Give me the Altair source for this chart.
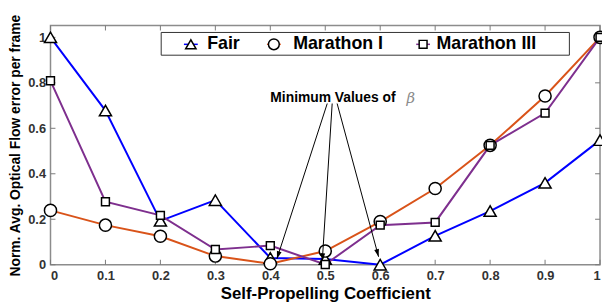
import math
import altair as alt
import pandas as pd

# ---- data ----
betas = [0.0, 0.1, 0.2, 0.3, 0.4, 0.5, 0.6, 0.7, 0.8, 0.9, 1.0]
fair = [1.0, 0.678, 0.193, 0.284, 0.03, 0.025, 0.0, 0.127, 0.236, 0.36, 0.548]
marathon_1 = [0.239, 0.174, 0.125, 0.038, 0.004, 0.06, 0.19, 0.335, 0.525, 0.742, 1.0]
marathon_3 = [0.809, 0.277, 0.217, 0.067, 0.084, 0.001, 0.174, 0.186, 0.525, 0.667, 1.0]

series_names = ["Fair", "Marathon I", "Marathon III"]
series_colors = ["#0000FF", "#D95319", "#7E2F8E"]
# the square is a smaller custom path so that one symbol size fits all three
series_shapes = ["triangle-up", "circle", "M-0.65,-0.65H0.65V0.65H-0.65Z"]

x_ticks = [0.0, 0.1, 0.2, 0.3, 0.4, 0.5, 0.6, 0.7, 0.8, 0.9, 1.0]
y_ticks = [0.0, 0.2, 0.4, 0.6, 0.8, 1.0]

# annotation (arrows from the label to the minimum points)
note_text = ["Minimum Values of"]
note_symbol = ["\u03b2"]
arrow_x0 = [0.5036, 0.5126, 0.5216]
arrow_y0 = [0.709, 0.709, 0.709]
arrow_x1 = [0.412, 0.4946, 0.597]
arrow_y1 = [0.026, 0.017, 0.035]

W, H = 556, 242
Y_MAX = 1.052
FONT = "Liberation Sans"

rows = []
for name, vals in zip(series_names, [fair, marathon_1, marathon_3]):
    for b, v in zip(betas, vals):
        rows.append({"beta": b, "value": v, "series": name})
df = pd.DataFrame(rows)

angles = []
for xa, ya, xb, yb in zip(arrow_x0, arrow_y0, arrow_x1, arrow_y1):
    dx = (xb - xa) * W
    dy = -(yb - ya) * H / Y_MAX
    angles.append(math.degrees(math.atan2(-dx, dy)) % 360)
arrows = pd.DataFrame({"x0": arrow_x0, "y0": arrow_y0, "x1": arrow_x1,
                       "y1": arrow_y1, "ang": angles})

xs = alt.Scale(domain=[0, 1], nice=False, zero=False)
ys = alt.Scale(domain=[0, Y_MAX], nice=False, zero=False)

x_axis = alt.Axis(values=x_ticks, format="~g", title="Self-Propelling Coefficient",
                  labelPadding=5, titlePadding=3, titleFontSize=17)
y_axis = alt.Axis(values=y_ticks, format="~g", title="Norm. Avg. Optical Flow error per frame",
                  labelPadding=5, titlePadding=5, titleFontSize=14)


def X(field):
    return alt.X(field, scale=xs, axis=x_axis)


def Y(field):
    return alt.Y(field, scale=ys, axis=y_axis)


# colour scale uses the data-driven (sorted) domain so its legend stays separate
lines = alt.Chart(df).mark_line(strokeWidth=2).encode(
    x=X("beta:Q"),
    y=Y("value:Q"),
    color=alt.Color("series:N", scale=alt.Scale(range=series_colors), legend=None),
)

points = alt.Chart(df).mark_point(filled=False, fill="white", stroke="black",
                                  strokeWidth=1.5, opacity=1, size=150).encode(
    x=X("beta:Q"),
    y=Y("value:Q"),
    shape=alt.Shape("series:N", scale=alt.Scale(domain=series_names, range=series_shapes),
                    legend=alt.Legend(orient="none", legendX=131.5, legendY=10,
                                      direction="horizontal", columnPadding=26, labelOffset=9,
                                      symbolSize=100, symbolOpacity=0,
                                      labelFont=FONT, labelFontSize=18, labelFontWeight="bold",
                                      labelColor="black", padding=0, title="")),
)

legend_box = alt.Chart(pd.DataFrame({"k": [0]})).mark_rect(
    fill="white", stroke="#333333", strokeWidth=1).encode(
    x=alt.value(112), x2=alt.value(525), y=alt.value(7), y2=alt.value(30))

# legend keys (drawn inside the legend frame, next to the legend labels)
key_x = [142, 226, 377]
key_sizes = [110, 120, 150]
key_layers = []
for shp, kx, ks, col in zip(series_shapes, key_x, key_sizes, series_colors):
    key_layers.append(
        alt.Chart(pd.DataFrame({"k": [0]})).mark_rule(color=col, strokeWidth=1.5).encode(
            x=alt.value(kx - 7), x2=alt.value(kx + 7), y=alt.value(19)))
    key_layers.append(
        alt.Chart(pd.DataFrame({"k": [0]})).mark_point(
            shape=shp, size=ks, fill="white", stroke="black", strokeWidth=1.5,
            filled=False, opacity=1).encode(x=alt.value(kx), y=alt.value(19)))

tick_col = "#7a7a7a"
xt = pd.DataFrame({"beta": x_ticks})
yt = pd.DataFrame({"value": y_ticks})
bottom_ticks = alt.Chart(xt).mark_rule(color=tick_col, strokeWidth=1).encode(
    x=X("beta:Q"), y=alt.value(H - 5), y2=alt.value(H))
top_ticks = alt.Chart(xt).mark_rule(color=tick_col, strokeWidth=1).encode(
    x=X("beta:Q"), y=alt.value(0), y2=alt.value(5))
left_ticks = alt.Chart(yt).mark_rule(color=tick_col, strokeWidth=1).encode(
    y=Y("value:Q"), x=alt.value(0), x2=alt.value(5))
right_ticks = alt.Chart(yt).mark_rule(color=tick_col, strokeWidth=1).encode(
    y=Y("value:Q"), x=alt.value(W - 5), x2=alt.value(W))

arrow_lines = alt.Chart(arrows).mark_rule(color="black", strokeWidth=1).encode(
    x=X("x0:Q"), y=Y("y0:Q"), x2="x1:Q", y2="y1:Q")
arrow_heads = alt.Chart(arrows).mark_point(
    shape="M0,0L-0.7,-2.2L0.7,-2.2Z", filled=True, color="black", size=49, opacity=1).encode(
    x=X("x1:Q"), y=Y("y1:Q"),
    angle=alt.Angle("ang:Q", scale=None))

note = alt.Chart(pd.DataFrame({"x": [0.514], "y": [0.735], "t": note_text})).mark_text(
    font=FONT, fontSize=14, fontWeight="bold", color="black", align="center", baseline="middle").encode(
    x=X("x:Q"), y=Y("y:Q"), text="t:N")
beta_note = alt.Chart(pd.DataFrame({"x": [0.648], "y": [0.735], "t": note_symbol})).mark_text(
    font="DejaVu Serif", fontSize=15, fontStyle="italic", color="#8a8a8a", align="left", baseline="middle").encode(
    x=X("x:Q"), y=Y("y:Q"), text="t:N")

chart = alt.layer(
    legend_box, *key_layers, bottom_ticks, top_ticks, left_ticks, right_ticks,
    lines, points, arrow_lines, arrow_heads, note, beta_note,
).properties(
    width=W, height=H,
    autosize=alt.AutoSizeParams(type="none"),
    padding={"left": 43, "top": 16, "right": 2, "bottom": 38},
).configure_view(
    stroke="#8c8c8c", strokeWidth=1.5,
).configure_axis(
    grid=False, domain=False, ticks=False,
    labelFont=FONT, labelFontSize=13, labelFontWeight="bold", labelColor="#333333",
    titleFont=FONT, titleFontWeight="bold", titleColor="black",
)

chart.save("out.html", embed_options={"renderer": "svg", "actions": False})
